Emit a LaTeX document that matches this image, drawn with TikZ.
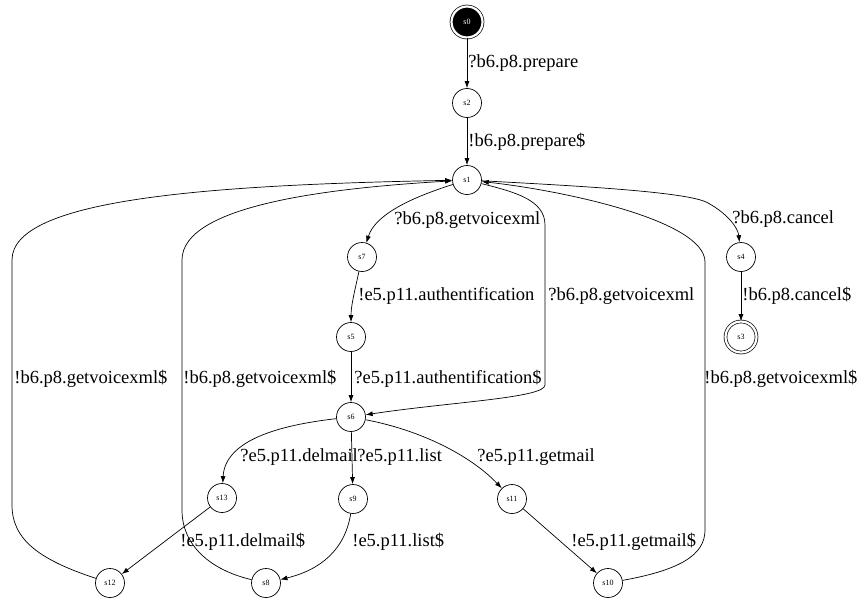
\documentclass[tikz,border=0pt]{standalone}
\usepackage{fontspec}
\setmainfont{Liberation Serif}
\usetikzlibrary{arrows.meta}
\begin{document}
\begin{tikzpicture}[x=1pt,y=-1pt,line width=0.7pt,
  >={Latex[length=7pt,width=5pt]},
  st/.style={draw,circle,minimum size=29pt,inner sep=0pt,
    font=\fontsize{8}{9}\selectfont},
  fin/.style={st,double,double distance=2.2pt,minimum size=31pt},
  lbl/.style={anchor=west,inner sep=0pt,font=\fontsize{18.5}{20}\selectfont}]
\useasboundingbox (0,0) rectangle (858,602);

\node[fin,fill=black,text=white] (s0) at (467,22) {s0};
\node[st] (s2) at (467,103) {s2};
\node[st] (s1) at (467,180) {s1};
\node[st] (s7) at (362,257) {s7};
\node[st] (s5) at (351,337) {s5};
\node[st] (s6) at (351,417) {s6};
\node[st] (s4) at (741,257) {s4};
\node[fin] (s3) at (741,337) {s3};
\node[st] (s13) at (222,498) {s13};
\node[st] (s9) at (353,499) {s9};
\node[st] (s11) at (512,499) {s11};
\node[st] (s12) at (110,583) {s12};
\node[st] (s8) at (266,583) {s8};
\node[st] (s10) at (608,583) {s10};

\node[lbl] (l02) at (468,63) {?b6.p8.prepare};
\node[lbl] (l21) at (468,142) {!b6.p8.prepare\$};
\node[lbl] (l17) at (394,220) {?b6.p8.getvoicexml};
\node[lbl] (l75) at (358,296) {!e5.p11.authentification};
\node[lbl] (l56) at (354,379) {?e5.p11.authentification\$};
\node[lbl] (l16) at (548,296) {?b6.p8.getvoicexml};
\node[lbl] (l14) at (732,219) {?b6.p8.cancel};
\node[lbl] (l43) at (742,296) {!b6.p8.cancel\$};
\node[lbl] (l101) at (704,379) {!b6.p8.getvoicexml\$};
\node[lbl] (l121) at (14,379) {!b6.p8.getvoicexml\$};
\node[lbl] (l81) at (183,379) {!b6.p8.getvoicexml\$};
\node[lbl] (l613) at (240,457) {?e5.p11.delmail};
\node[lbl] (l69) at (357,457) {?e5.p11.list};
\node[lbl] (l611) at (477,457) {?e5.p11.getmail};
\node[lbl] (l1312) at (180,542) {!e5.p11.delmail\$};
\node[lbl] (l98) at (352,542) {!e5.p11.list\$};
\node[lbl] (l1110) at (571,542) {!e5.p11.getmail\$};

\draw[->] (s0) -- (s2);
\draw[->] (s2) -- (s1);
\draw[->] (s1) .. controls (410,198) and (375,215) .. (s7);
\draw[->] (s7) .. controls (355,290) and (351,305) .. (s5);
\draw[->] (s5) -- (s6);
\draw[->] (s1) .. controls (515,192) and (545,200) .. (545,225)
  -- (545,385) .. controls (545,398) and (450,402) .. (s6);
\draw[->] (s1) .. controls (580,186) and (690,192) .. (708,203)
  .. controls (728,214) and (738,228) .. (s4);
\draw[->] (s4) -- (s3);
\draw[->] (s6) .. controls (280,425) and (225,440) .. (s13);
\draw[->] (s6) -- (s9);
\draw[->] (s6) .. controls (420,430) and (470,455) .. (s11);
\draw[->] (s13) -- (s12);
\draw[->] (s9) .. controls (345,550) and (320,570) .. (s8);
\draw[->] (s11) -- (s10);
\draw[->] (s10) .. controls (680,570) and (705,555) .. (705,530)
  -- (705,262) .. controls (705,220) and (560,190) .. (s1);
\draw[->] (s12) .. controls (40,560) and (12,540) .. (12,505)
  -- (12,260) .. controls (12,200) and (200,185) .. (s1);
\draw[->] (s8) .. controls (210,570) and (182,545) .. (182,510)
  -- (182,260) .. controls (182,205) and (330,188) .. (s1);
\end{tikzpicture}
\end{document}
